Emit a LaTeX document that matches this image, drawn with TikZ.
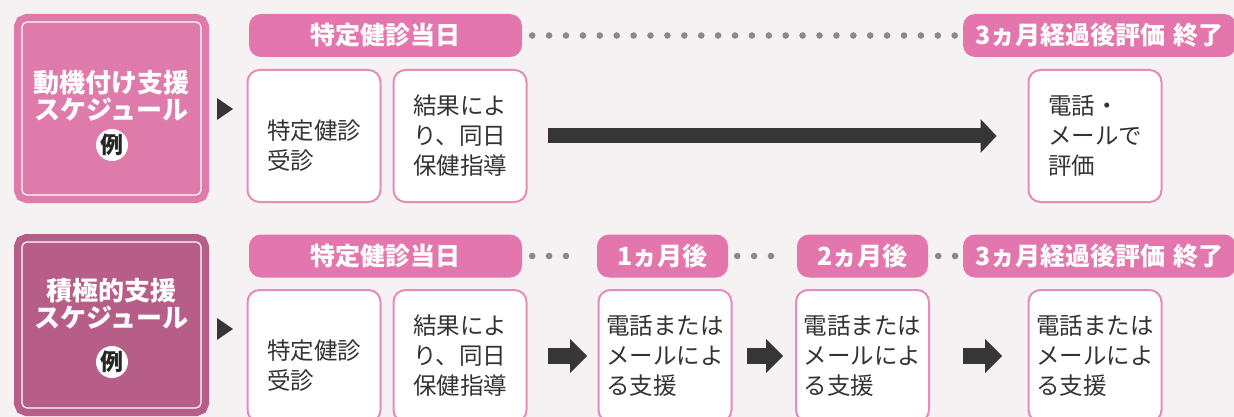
\documentclass[tikz,border=0pt]{standalone}
\usepackage{fontspec}
\usepackage{tikz}
\newfontfamily\jp{Noto Sans CJK JP}
\usetikzlibrary{arrows.meta,shapes}
\definecolor{paper}{HTML}{F6F1F3}
\definecolor{planA}{HTML}{DE7BAA}
\definecolor{planB}{HTML}{B65D88}
\definecolor{stagepink}{HTML}{E376AC}
\definecolor{boxline}{HTML}{E58DB8}
\definecolor{dotgray}{HTML}{8A8A8A}
\definecolor{arrowgray}{HTML}{363636}
\tikzstyle{plan}=[rectangle,rounded corners=5pt,draw=white,line width=1.2pt,minimum width=179pt,inner sep=0pt]
\tikzstyle{planname}=[text=white,align=center,font=\jp\bfseries\fontsize{26}{27}\selectfont]
\tikzstyle{rei}=[circle,fill=white,minimum size=32pt,inner sep=0pt,text=black!85,font=\jp\bfseries\fontsize{23}{23}\selectfont]
\tikzstyle{stage}=[rectangle,rounded corners=12pt,fill=stagepink,text=white,minimum height=43pt,inner sep=0pt,font=\jp\bfseries\fontsize{25}{25}\selectfont]
\tikzstyle{stepbox}=[rectangle,rounded corners=12pt,draw=boxline,line width=2pt,fill=white,minimum width=133pt,minimum height=132pt,inner sep=0pt,align=left,text=black!80,font=\jp\fontsize{23.5}{30}\selectfont]
\tikzstyle{dots}=[draw=dotgray,line width=6.6pt,line cap=round,dash pattern=on 0pt off 16.9pt]
\tikzstyle{bigarrow}=[draw=arrowgray,line width=15pt,-{Triangle[length=16pt,width=34pt,line width=0pt]}]
\tikzstyle{smallarrow}=[draw=arrowgray,line width=16pt,-{Triangle[length=17pt,width=34pt,line width=0pt]}]

\begin{document}
\begin{tikzpicture}[x=1pt,y=-1pt]
    \useasboundingbox (0,0) rectangle (1234,417);
    \clip (0,0) rectangle (1234,417);
    \fill[paper] (0,0) rectangle (1234,417);
    % The two schedule labels on the left
    \node[plan,fill=planA,minimum height=173pt,preaction={draw=planA,line width=16pt}] (plan1) at (111.5,108.5) {};
    \node[planname] (name1) at (111.5,96) {動機付け支援\\スケジュール};
    \node[rei] (rei1) at (112,145) {例};
    \node[plan,fill=planB,minimum height=166pt,preaction={draw=planB,line width=16pt}] (plan2) at (111.5,325) {};
    \node[planname] (name2) at (111.5,304) {積極的支援\\スケジュール};
    \node[rei] (rei2) at (112,362) {例};
    \fill[arrowgray] (217,98) -- (233,109) -- (217,120) -- cycle;
    \fill[arrowgray] (217,318) -- (233,329) -- (217,340) -- cycle;
    % Then the pink stage headers
    \foreach \pos/\name/\boxw/\txt in {{(385.5,35.5)/top0/273/特定健診当日}, {(1099.5,35.5)/top1/273/3ヵ月経過後評価\hspace{0.3em}終了},
        {(385.5,256)/bot0/273/特定健診当日}, {(662.5,256)/bot1/131/1ヵ月後}, {(862.5,256)/bot2/131/2ヵ月後}, {(1099.5,256)/bot3/273/3ヵ月経過後評価\hspace{0.3em}終了}}
        \node[stage,minimum width=\boxw pt] (\name) at \pos {\txt};
    % Dotted lines between the headers
    \path[dots,shorten <=10pt,shorten >=6pt] (top0) -- (top1);
    \path[dots,shorten <=10pt,shorten >=14pt] (bot0) -- (bot1);
    \path[dots,shorten <=9pt,shorten >=9pt] (bot1) -- (bot2);
    \path[dots,shorten <=10pt,shorten >=6pt] (bot2) -- (bot3);
    % The white step boxes
    \foreach \pos/\name/\txt in {{(314,136)/b1/{\rule{0pt}{39pt}特定健診\\受診}}, {(460,136)/b2/{結果によ\\り、同日\\保健指導}}, {(1095,136)/b3/{電話・\\メールで\\評価}},
        {(314,356)/c1/{\rule{0pt}{39pt}特定健診\\受診}}, {(460,356)/c2/{結果によ\\り、同日\\保健指導}}, {(665,356)/c3/{電話または\\メールによ\\る支援}},
        {(862.5,356)/c4/{電話または\\メールによ\\る支援}}, {(1095,356)/c5/{電話または\\メールによ\\る支援}}}
        \node[stepbox] (\name) at \pos {\txt};
    % Connect the boxes with arrows
    \draw[bigarrow,shorten <=20pt,shorten >=31pt] (b2) -- (b3);
    \draw[smallarrow,shorten <=20.5pt,shorten >=10.5pt] (c2) -- (c3);
    \draw[smallarrow,shorten <=14.5pt,shorten >=12pt] (c3) -- (c4);
    \draw[smallarrow,shorten <=33pt,shorten >=25.5pt] (c4) -- (c5);
\end{tikzpicture}
\end{document}
